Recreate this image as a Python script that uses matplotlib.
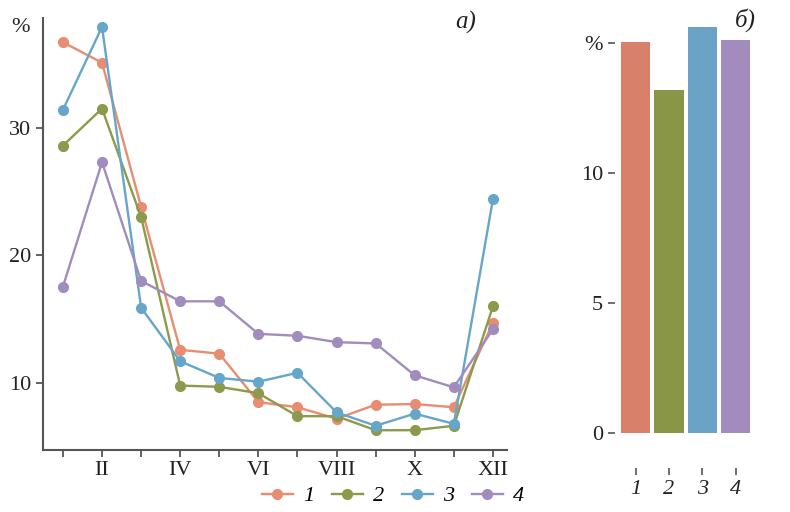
import numpy as np
import matplotlib
matplotlib.use('Agg')
import matplotlib.pyplot as plt

plt.rcParams['font.family'] = ['Liberation Serif', 'DejaVu Serif']

# данные по месяцам (I..XII), %
months = np.arange(1, 13)
month_labels = ['', 'II', '', 'IV', '', 'VI', '', 'VIII', '', 'X', '', 'XII']
s1 = [36.7, 35.1, 23.8, 12.6, 12.3, 8.5, 8.1, 7.2, 8.3, 8.35, 8.1, 14.7]
s2 = [28.6, 31.5, 23.0, 9.8, 9.7, 9.2, 7.4, 7.4, 6.3, 6.3, 6.65, 16.0]
s3 = [31.4, 37.9, 15.9, 11.7, 10.4, 10.1, 10.8, 7.7, 6.65, 7.6, 6.8, 24.4]
s4 = [17.55, 27.3, 18.0, 16.4, 16.4, 13.85, 13.7, 13.2, 13.1, 10.6, 9.66, 14.2]
series_names = ['1', '2', '3', '4']

# средние значения (панель б)
bar_values = [15.05, 13.2, 15.6, 15.1]

line_colors = ['#e88c72', '#8c9a4b', '#66a6c9', '#a18cbe']
bar_colors = ['#d9806a', '#8a9647', '#6aa3c6', '#a28cbd']
spine_col = '#555555'
txt_col = '#222222'
fs = 16

fig = plt.figure(figsize=(7.9, 5.12), dpi=100)

# --- панель а) ---
ax = fig.add_axes([43/790, 62/512, 464/790, 432/512])
for vals, c, name in zip([s1, s2, s3, s4], line_colors, series_names):
    ax.plot(months, vals, color=c, lw=1.7, marker='o', ms=7, label=name)
ax.set_xlim(0.49, 12.36)
ax.set_ylim(4.75, 38.6)
ax.set_xticks(months)
ax.set_xticklabels(month_labels)
ax.set_yticks([10, 20, 30])
for s in ['top', 'right']:
    ax.spines[s].set_visible(False)
for s in ['left', 'bottom']:
    ax.spines[s].set_color(spine_col)
    ax.spines[s].set_linewidth(1.5)
ax.tick_params(axis='both', colors=spine_col, labelcolor=txt_col,
               labelsize=fs, length=5, width=1.3)
ax.tick_params(axis='x', pad=3)
fig.text(20/790, 1 - 27/512, '%', fontsize=fs, ha='center', va='center', color=txt_col)
fig.text(466/790, 1 - 22/512, 'а)', fontsize=18, style='italic', ha='center', va='center',
         color=txt_col)

fig.legend(loc='center', bbox_to_anchor=(393/790, 1 - 496/512), ncol=4, frameon=False,
           handlelength=1.4, handletextpad=0.45, columnspacing=0.8,
           prop={'style': 'italic', 'size': fs})

# --- панель б) ---
bx = fig.add_axes([620.5/790, 79/512, 130/790, 416/512])
pos = np.arange(1, 5)
bx.bar(pos, bar_values, width=0.88, color=bar_colors)
bx.set_xlim(0.55, 4.45)
bx.set_ylim(0, 16)
bx.set_yticks([0, 5, 10, 15])
bx.set_yticklabels(['0', '5', '10', '%'])
bx.set_xticks(pos)
bx.set_xticklabels(series_names)
for s in ['top', 'right', 'left', 'bottom']:
    bx.spines[s].set_visible(False)
bx.spines['left'].set_position(('outward', 4))
bx.spines['bottom'].set_position(('outward', 25))
bx.tick_params(axis='both', colors=spine_col, labelcolor=txt_col,
               labelsize=fs, length=5, width=1.2)
for lab in bx.get_xticklabels():
    lab.set_fontstyle('italic')
fig.text(745/790, 1 - 20/512, 'б)', fontsize=18, style='italic', ha='center', va='center',
         color=txt_col)

fig.savefig('out.png', dpi=100, facecolor='white')
